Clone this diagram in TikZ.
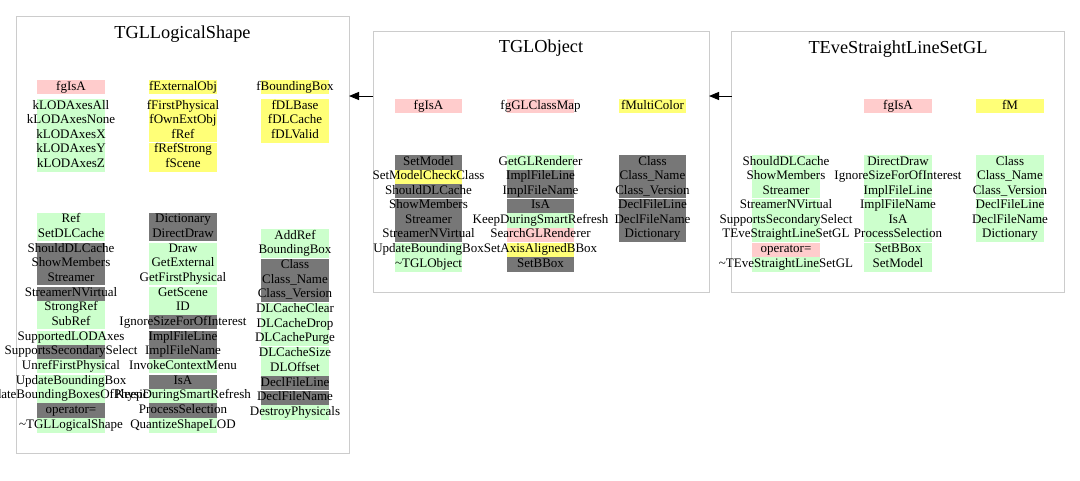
\documentclass[tikz,border=0pt]{standalone}
\usepackage{fontspec}
\setmainfont{Liberation Serif}
\usetikzlibrary{arrows.meta}
\newcounter{cellno}
\definecolor{cp}{HTML}{FFCCCC}
\definecolor{cy}{HTML}{FFFF77}
\definecolor{cg}{HTML}{CCFFCC}
\definecolor{ck}{HTML}{777777}
\definecolor{cbord}{HTML}{CCCCCC}
% #1 left x, #2 top y, #3 pitch, #4 gap boundaries (may be empty), #5 colour/text list
\newcommand\colcells[5]{%
  \foreach \cc/\tt [count=\ii from 0] in {#5}{\fill[\cc] (#1,{#2+\ii*#3}) rectangle ++(\cw,#3);}%
  \def\tmpg{#4}%
  \ifx\tmpg\empty\else
    \foreach \kk in {#4}{\fill[white] (#1,{#2+\kk*#3-0.6}) rectangle ++(\cw,1.2);}%
  \fi
  \foreach \cc/\tt [count=\ii from 0] in {#5}{%
    \stepcounter{cellno}%
    \node[ctext] (cell\thecellno) at ({#1+\cw/2},{#2+\ii*#3+10}) {\tt};}%
}
\begin{document}
\begin{tikzpicture}[x=1pt,y=-1pt,
  ctext/.style={anchor=base,inner sep=0pt,font=\fontsize{13}{13}\selectfont},
  ttl/.style={anchor=base,inner sep=0pt,font=\fontsize{18.3}{18}\selectfont},
  classbox/.style={draw=cbord,line width=1pt,fill=white,inner sep=0pt,outer sep=0pt,anchor=north west},
  inh/.style={draw=black,line width=1pt,-{Triangle[length=10pt,width=8pt]}}]
\useasboundingbox[fill=white] (0,0) rectangle (1080,480);

% class boxes
\node[classbox,minimum width=333,minimum height=437] (lshape) at (16,16) {};
\node[classbox,minimum width=336,minimum height=260.5] (tglo) at (373,31.5) {};
\node[classbox,minimum width=332.5,minimum height=260.5] (tev) at (731.5,31.5) {};

% titles
\node[ttl] (t1) at (182.5,38.5) {TGLLogicalShape};
\node[ttl] (t2) at (541,52.5) {TGLObject};
\node[ttl] (t3) at (898,53) {TEveStraightLineSetGL};

% inheritance arrows
\coordinate (ay) at (0,96);
\draw[inh] (tev.west |- ay) -- (tglo.east |- ay);
\draw[inh] (tglo.west |- ay) -- (lshape.east |- ay);

% ---------------- TGLLogicalShape
\def\cw{68}
\colcells{37}{80}{13.5}{}{cp/fgIsA}
\colcells{149}{80}{13.5}{}{cy/fExternalObj}
\colcells{261}{80}{13.5}{}{cy/fBoundingBox}
\colcells{37}{99}{14.55}{}{cg/kLODAxesAll,cg/kLODAxesNone,cg/kLODAxesX,cg/kLODAxesY,cg/kLODAxesZ}
\colcells{149}{99}{14.55}{3}{cy/fFirstPhysical,cy/fOwnExtObj,cy/fRef,cy/fRefStrong,cy/fScene}
\colcells{261}{99}{14.55}{}{cy/fDLBase,cy/fDLCache,cy/fDLValid}
\colcells{37}{212.7}{14.67}{2,5,8,11}{cg/Ref,cg/SetDLCache,ck/ShouldDLCache,ck/ShowMembers,ck/Streamer,ck/StreamerNVirtual,cg/StrongRef,cg/SubRef,cg/SupportedLODAxes,ck/SupportsSecondarySelect,cg/UnrefFirstPhysical,cg/UpdateBoundingBox,cg/UpdateBoundingBoxesOfPhysicals,ck/operator=,cg/\textasciitilde TGLLogicalShape}
\colcells{149}{212.7}{14.67}{2,5,8,11}{ck/Dictionary,ck/DirectDraw,cg/Draw,cg/GetExternal,cg/GetFirstPhysical,cg/GetScene,cg/ID,ck/IgnoreSizeForOfInterest,ck/ImplFileLine,ck/ImplFileName,cg/InvokeContextMenu,ck/IsA,cg/KeepDuringSmartRefresh,ck/ProcessSelection,cg/QuantizeShapeLOD}
\colcells{261}{229.3}{14.67}{2,5,8,11}{cg/AddRef,cg/BoundingBox,ck/Class,ck/Class\_Name,ck/Class\_Version,cg/DLCacheClear,cg/DLCacheDrop,cg/DLCachePurge,cg/DLCacheSize,cg/DLOffset,ck/DeclFileLine,ck/DeclFileName,cg/DestroyPhysicals}

% ---------------- TGLObject
\def\cw{67}
\colcells{395}{99}{13.7}{}{cp/fgIsA}
\colcells{507}{99}{13.7}{}{cp/fgGLClassMap}
\colcells{619}{99}{13.7}{}{cy/fMultiColor}
\colcells{395}{155}{14.58}{3,6}{ck/SetModel,cy/SetModelCheckClass,ck/ShouldDLCache,ck/ShowMembers,ck/Streamer,ck/StreamerNVirtual,cg/UpdateBoundingBox,cg/\textasciitilde TGLObject}
\colcells{507}{155}{14.58}{3,6}{cg/GetGLRenderer,ck/ImplFileLine,ck/ImplFileName,ck/IsA,cg/KeepDuringSmartRefresh,cp/SearchGLRenderer,cy/SetAxisAlignedBBox,ck/SetBBox}
\colcells{619}{155}{14.58}{3}{ck/Class,ck/Class\_Name,ck/Class\_Version,ck/DeclFileLine,ck/DeclFileName,ck/Dictionary}

% ---------------- TEveStraightLineSetGL
\def\cw{68}
\colcells{864}{99}{13.7}{}{cp/fgIsA}
\colcells{976}{99}{13.7}{}{cy/fM}
\colcells{752}{155}{14.58}{3,6}{cg/ShouldDLCache,cg/ShowMembers,cg/Streamer,cg/StreamerNVirtual,cg/SupportsSecondarySelect,cg/TEveStraightLineSetGL,cp/operator=,cg/\textasciitilde TEveStraightLineSetGL}
\colcells{864}{155}{14.58}{3,6}{cg/DirectDraw,cg/IgnoreSizeForOfInterest,cg/ImplFileLine,cg/ImplFileName,cg/IsA,cg/ProcessSelection,cg/SetBBox,cg/SetModel}
\colcells{976}{155}{14.58}{3}{cg/Class,cg/Class\_Name,cg/Class\_Version,cg/DeclFileLine,cg/DeclFileName,cg/Dictionary}
\end{tikzpicture}
\end{document}
